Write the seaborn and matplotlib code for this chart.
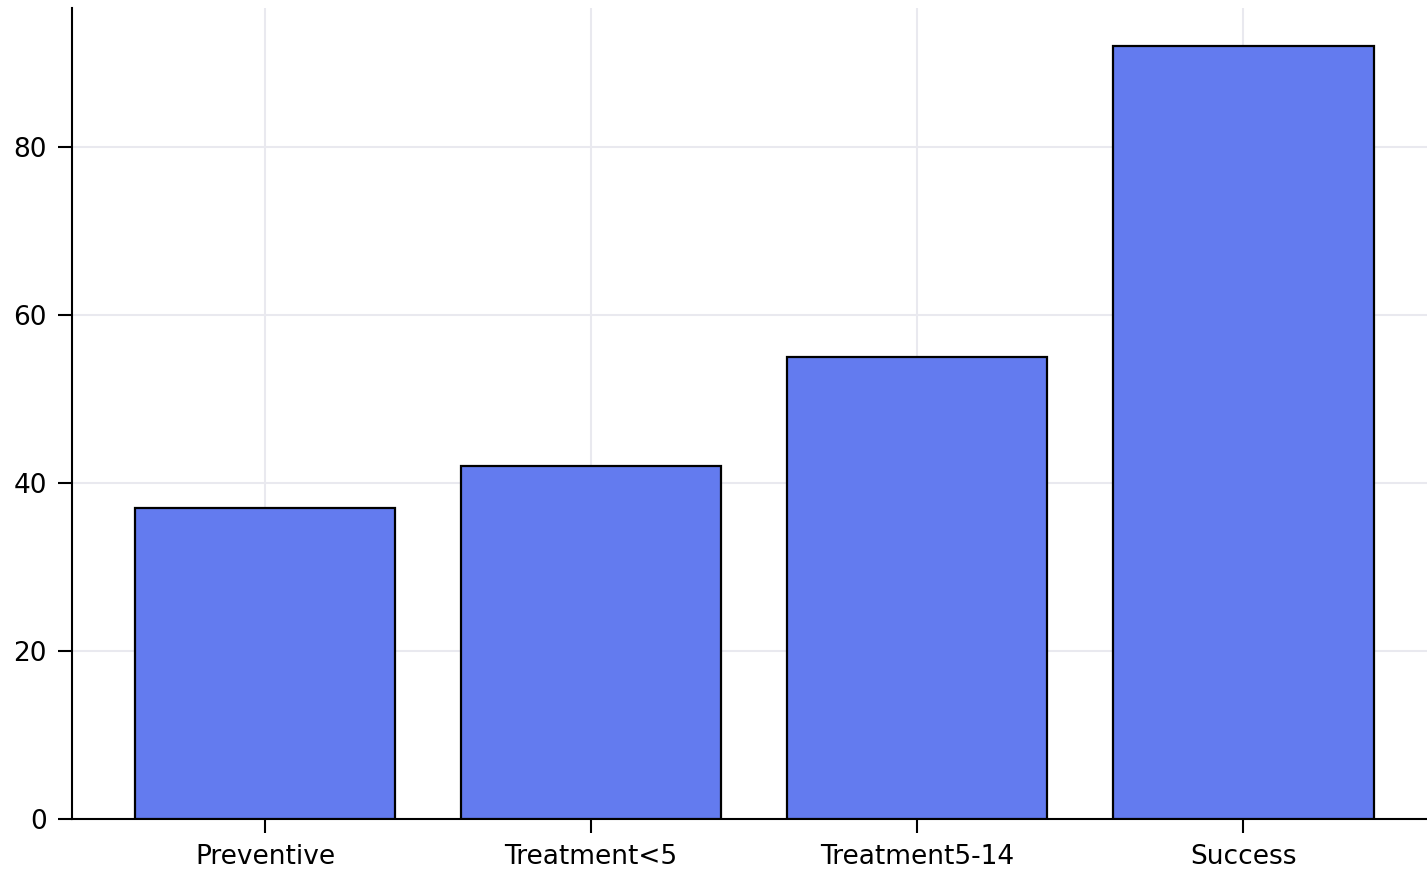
import matplotlib
matplotlib.use("Agg")
import matplotlib.pyplot as plt
import seaborn as sns
import pandas as pd

categories = ["Preventive", "Treatment<5", "Treatment5-14", "Success"]
values = [37, 42, 55, 92]

sns.set_style("white")
plt.rcParams['font.family'] = ['DejaVu Sans']

df = pd.DataFrame({"category": categories, "value": values})

fig = plt.figure(figsize=(14.27, 8.71), dpi=100)
ax = fig.add_axes([72 / 1427, 1 - 819 / 871, 1 - 72 / 1427, (819 - 8) / 871])

sns.barplot(data=df, x="category", y="value", color="#637bef", saturation=1,
            edgecolor="black", linewidth=1.6, width=0.8, ax=ax, zorder=3)

ax.set_xlim(-0.592, 3.564)
ax.set_ylim(0, 96.55)
ax.set_yticks([0, 20, 40, 60, 80])
ax.grid(True, color="#e9e9ef", linewidth=1.5, zorder=0)
ax.set_axisbelow(True)
ax.set_xlabel("")
ax.set_ylabel("")
for s in ["top", "right"]:
    ax.spines[s].set_visible(False)
for s in ["left", "bottom"]:
    ax.spines[s].set_linewidth(1.5)
    ax.spines[s].set_color("black")
ax.tick_params(axis="both", which="major", length=10, width=1.5, color="black",
               labelsize=19, labelcolor="black", pad=8, direction="out",
               bottom=True, left=True)

fig.savefig("out.png", dpi=100)
